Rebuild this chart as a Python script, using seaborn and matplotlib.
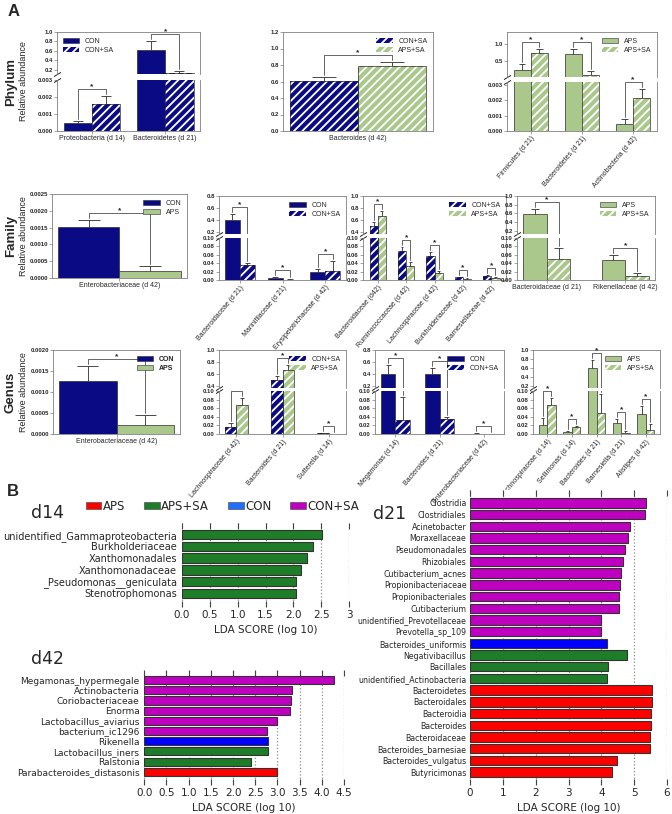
import numpy as np
import pandas as pd
import matplotlib
matplotlib.use("Agg")
import matplotlib.pyplot as plt
from matplotlib.patches import Rectangle, Patch
import seaborn as sns

W, H = 672, 814

NAVY = "#0a0a84"
GREEN = "#aac88c"
EDGE = "#2b2b2b"
SPINE = "#808080"
STYLE = {"CON": (NAVY, False), "CON+SA": (NAVY, True),
         "APS": (GREEN, False), "APS+SA": (GREEN, True)}

LEFSE_COLORS = {"APS": "#ff0000", "APS+SA": "#1e7d28", "CON": "#0000ff", "CON+SA": "#c000c0"}
LEGEND_COLORS = {"APS": "#ff0000", "APS+SA": "#1e7d28", "CON": "#1f6fff", "CON+SA": "#c000c0"}

# ---------------- Panel A data (mean, sd) ----------------
phy1_taxa = ["Proteobacteria (d 14)", "Bacteroidetes (d 21)"]
phy1_groups = ["CON", "CON+SA"]
phy1_mean_a = [0.00045, 0.628]
phy1_sd_a = [0.00016, 0.18]
phy1_mean_b = [0.0016, 0.137]
phy1_sd_b = [0.00043, 0.04]

phy2_taxa = ["Bacteroides (d 42)"]
phy2_groups = ["CON+SA", "APS+SA"]
phy2_mean_a = [0.604]
phy2_sd_a = [0.056]
phy2_mean_b = [0.785]
phy2_sd_b = [0.053]

phy3_taxa = ["Firmicutes (d 21)", "Bacteroidetes (d 21)", "Actinobacteria (d 42)"]
phy3_groups = ["APS", "APS+SA"]
phy3_mean_a = [0.23, 0.70, 0.00046]
phy3_sd_a = [0.18, 0.17, 0.00033]
phy3_mean_b = [0.75, 0.08, 0.00213]
phy3_sd_b = [0.11, 0.12, 0.0006]

fam1_taxa = ["Enterobacteriaceae (d 42)"]
fam1_groups = ["CON", "APS"]
fam1_mean_a = [0.00152]
fam1_sd_a = [0.00022]
fam1_mean_b = [0.00022]
fam1_sd_b = [0.00013]

fam2_taxa = ["Bacteroidaceae (d 21)", "Marinifilaceae (d 21)", "Erysipelotrichaceae (d 42)"]
fam2_groups = ["CON", "CON+SA"]
fam2_mean_a = [0.40, 0.0056, 0.0184]
fam2_sd_a = [0.095, 0.0016, 0.007]
fam2_mean_b = [0.036, 0.001, 0.0216]
fam2_sd_b = [0.004, 0.0005, 0.024]

fam3_taxa = ["Bacteroidaceae (d42)", "Ruminococcaceae (d 42)", "Lachnospiraceae (d 42)",
             "Burkholderiaceae (d 42)", "Barnesiellaceae (d 42)"]
fam3_groups = ["CON+SA", "APS+SA"]
fam3_mean_a = [0.49, 0.0696, 0.0576, 0.0064, 0.0096]
fam3_sd_a = [0.077, 0.008, 0.010, 0.0016, 0.0016]
fam3_mean_b = [0.667, 0.034, 0.016, 0.0032, 0.0056]
fam3_sd_b = [0.077, 0.008, 0.006, 0.0008, 0.0016]

fam4_taxa = ["Bacteroidaceae (d 21)", "Rikenellaceae (d 42)"]
fam4_groups = ["APS", "APS+SA"]
fam4_mean_a = [0.585, 0.048]
fam4_sd_a = [0.105, 0.0112]
fam4_mean_b = [0.0504, 0.0096]
fam4_sd_b = [0.0256, 0.0072]

gen1_taxa = ["Enterobacteriaceae (d 42)"]
gen1_groups = ["CON", "APS"]
gen1_mean_a = [0.00126]
gen1_sd_a = [0.00035]
gen1_mean_b = [0.000214]
gen1_sd_b = [0.00024]

gen2_taxa = ["Lachnospiraceae (d 42)", "Bacteroides (d 21)", "Sutterella (d 14)"]
gen2_groups = ["CON+SA", "APS+SA"]
gen2_mean_a = [0.0168, 0.495, 0.0023]
gen2_sd_a = [0.0084, 0.079, 0.001]
gen2_mean_b = [0.067, 0.675, 0.0008]
gen2_sd_b = [0.0176, 0.078, 0.0003]

gen3_taxa = ["Megamonas (d 14)", "Bacteroides (d 21)", "Enterobacteriaceae (d 42)"]
gen3_groups = ["CON", "CON+SA"]
gen3_mean_a = [0.396, 0.407, 0.001]
gen3_sd_a = [0.15, 0.095, 0.0003]
gen3_mean_b = [0.033, 0.035, 0.0003]
gen3_sd_b = [0.052, 0.005, 0.0002]

gen4_taxa = ["Lachnospiraceae (d 14)", "Sellimonas (d 14)", "Bacteroides (d 21)",
             "Barnesiella (d 21)", "Alistipes (d 42)"]
gen4_groups = ["APS", "APS+SA"]
gen4_mean_a = [0.021, 0.004, 0.596, 0.0258, 0.047]
gen4_sd_a = [0.0165, 0.004, 0.18, 0.0094, 0.017]
gen4_mean_b = [0.068, 0.0156, 0.049, 0.003, 0.0102]
gen4_sd_b = [0.016, 0.004, 0.043, 0.0047, 0.012]

# ---------------- Panel B data (LDA scores) ----------------
d14_taxa = ["unidentified_Gammaproteobacteria", "Burkholderiaceae", "Xanthomonadales",
            "Xanthomonadaceae", "_Pseudomonas__geniculata", "Stenotrophomonas"]
d14_lda = [2.51, 2.35, 2.24, 2.14, 2.05, 2.04]
d14_class = ["APS+SA", "APS+SA", "APS+SA", "APS+SA", "APS+SA", "APS+SA"]

d42_taxa = ["Megamonas_hypermegale", "Actinobacteria", "Coriobacteriaceae", "Enorma",
            "Lactobacillus_aviarius", "bacterium_ic1296", "Rikenella", "Lactobacillus_iners",
            "Ralstonia", "Parabacteroides_distasonis"]
d42_lda = [4.27, 3.33, 3.31, 3.29, 2.99, 2.76, 2.78, 2.78, 2.40, 2.99]
d42_class = ["CON+SA", "CON+SA", "CON+SA", "CON+SA", "CON+SA", "CON+SA",
             "CON", "APS+SA", "APS+SA", "APS"]

d21_taxa = ["Clostridia", "Clostridiales", "Acinetobacter", "Moraxellaceae", "Pseudomonadales",
            "Rhizobiales", "Cutibacterium_acnes", "Propionibacteriaceae", "Propionibacteriales",
            "Cutibacterium", "unidentified_Prevotellaceae", "Prevotella_sp_109",
            "Bacteroides_uniformis", "Negativibacillus", "Bacillales", "unidentified_Actinobacteria",
            "Bacteroidetes", "Bacteroidales", "Bacteroidia", "Bacteroides", "Bacteroidaceae",
            "Bacteroides_barnesiae", "Bacteroides_vulgatus", "Butyricimonas"]
d21_lda = [5.37, 5.33, 4.86, 4.82, 4.72, 4.66, 4.59, 4.56, 4.54, 4.54, 4.00, 4.00,
           4.16, 4.77, 4.20, 4.18, 5.55, 5.54, 5.51, 5.50, 5.47, 5.47, 4.48, 4.31]
d21_class = ["CON+SA", "CON+SA", "CON+SA", "CON+SA", "CON+SA", "CON+SA", "CON+SA", "CON+SA",
             "CON+SA", "CON+SA", "CON+SA", "CON+SA", "CON", "APS+SA", "APS+SA", "APS+SA",
             "APS", "APS", "APS", "APS", "APS", "APS", "APS", "APS"]
lefse_legend = ["APS", "APS+SA", "CON", "CON+SA"]

sns.set_style("ticks")
plt.rcParams["font.family"] = ["Liberation Sans", "DejaVu Sans"]
plt.rcParams["hatch.linewidth"] = 1.3

fig = plt.figure(figsize=(W / 100, H / 100), dpi=100)


def px_rect(x0, y0, x1, y1):
    return [x0 / W, 1 - y1 / H, (x1 - x0) / W, (y1 - y0) / H]


def abundance(x0, x1, pieces, taxa, groups, mean_a, sd_a, mean_b, sd_b,
              width=0.8, rot=0, leg_loc="upper right", leg_bold=False):
    n = len(taxa)
    df = pd.DataFrame({"taxon": list(taxa) * 2,
                       "group": [groups[0]] * n + [groups[1]] * n,
                       "value": list(mean_a) + list(mean_b)})
    sds = list(sd_a) + list(sd_b)
    axes, dpp = [], []
    centers = None
    for k, (yt, yb, lim, ticks, fmt) in enumerate(pieces):
        ax = fig.add_axes(px_rect(x0, yt, x1, yb))
        sns.barplot(data=df, x="taxon", y="value", hue="group", hue_order=groups,
                    palette=[STYLE[g][0] for g in groups], width=width, errorbar=None,
                    legend=False, saturation=1, edgecolor=EDGE, linewidth=0.5, ax=ax)
        bars = list(ax.patches)
        centers = [p.get_x() + p.get_width() / 2 for p in bars]
        for i, p in enumerate(bars):
            if STYLE[groups[i // n]][1]:
                p.set_hatch("////")
                p.set_edgecolor("white")
                p.set_linewidth(0)
                ax.add_patch(Rectangle((p.get_x(), p.get_y()), p.get_width(), p.get_height(),
                                       fill=False, ec=EDGE, lw=0.5))
        vals = df["value"].to_numpy()
        cap = width * 0.09
        ax.vlines(centers, vals, vals + np.array(sds), color=EDGE, lw=0.6)
        ax.hlines(vals + np.array(sds), np.array(centers) - cap, np.array(centers) + cap,
                  color=EDGE, lw=0.6)
        ax.set_ylim(lim)
        ax.set_yticks(ticks, labels=[fmt % t for t in ticks], fontsize=4.3, fontweight="bold")
        ax.set_xlabel("")
        ax.set_ylabel("")
        for sp in ax.spines.values():
            sp.set_color(SPINE)
            sp.set_linewidth(0.6)
        ax.tick_params(axis="both", length=2, width=0.5, color=SPINE, pad=1)
        if k < len(pieces) - 1:
            ax.spines["bottom"].set_visible(False)
            ax.set_xticks([])
            ax.plot([0], [0], transform=ax.transAxes, marker=[(-1, -0.6), (1, 0.6)],
                    ms=5, ls="none", mec="k", mew=0.6, clip_on=False)
        else:
            if rot:
                ax.set_xticks(range(n), labels=taxa, fontsize=5, rotation=rot,
                              ha="right", rotation_mode="anchor")
            else:
                ax.set_xticks(range(n), labels=taxa, fontsize=5)
        if k > 0:
            ax.spines["top"].set_visible(False)
            ax.plot([0], [1], transform=ax.transAxes, marker=[(-1, -0.6), (1, 0.6)],
                    ms=5, ls="none", mec="k", mew=0.6, clip_on=False)
        axes.append(ax)
        dpp.append((lim[1] - lim[0]) / (yb - yt))

    def piece_for(y):
        for idx in range(len(pieces) - 1, -1, -1):
            if y <= pieces[idx][2][1]:
                return idx
        return 0

    # significance brackets
    for i in range(n):
        xa, xb = centers[i], centers[i + n]
        ta, tb = mean_a[i] + sd_a[i], mean_b[i] + sd_b[i]
        top = max(ta, tb)
        level = top + 7 * dpp[piece_for(top)]
        la = ta + 2 * dpp[piece_for(ta)]
        lb = tb + 2 * dpp[piece_for(tb)]
        for ax in axes:
            ax.plot([xa, xa, xb, xb], [la, level, level, lb], color="#4d4d4d", lw=0.6)
        kk = piece_for(level)
        axes[kk].text((xa + xb) / 2, level + 0.8 * dpp[kk], "*", ha="center", va="baseline",
                      fontsize=6, fontweight="bold")

    handles = []
    for g in groups:
        col, hat = STYLE[g]
        if hat:
            handles.append(Patch(facecolor=col, edgecolor="white", hatch="////", lw=0))
        else:
            handles.append(Patch(facecolor=col, edgecolor=EDGE, lw=0.4))
    leg = axes[0].legend(handles, groups, loc=leg_loc, frameon=False, fontsize=5,
                         handlelength=2.4, handleheight=0.8, borderaxespad=0.4,
                         labelspacing=0.3, handletextpad=0.8)
    if leg_bold:
        for t in leg.get_texts():
            t.set_fontweight("bold")
    return axes


t01 = [0.2, 0.4, 0.6, 0.8, 1.0]
low10 = [0.0, 0.02, 0.04, 0.06, 0.08, 0.10]

# Phylum row
abundance(57, 200, [(32, 74, (0.11, 1.0), t01, "%.1f"),
                    (80, 131, (0, 0.003), [0, 0.001, 0.002, 0.003], "%.3f")],
          phy1_taxa, phy1_groups, phy1_mean_a, phy1_sd_a, phy1_mean_b, phy1_sd_b,
          width=0.77, leg_loc="upper left")
abundance(283, 433, [(32, 131, (0, 1.2), [0, 0.2, 0.4, 0.6, 0.8, 1.0, 1.2], "%.1f")],
          phy2_taxa, phy2_groups, phy2_mean_a, phy2_sd_a, phy2_mean_b, phy2_sd_b, width=0.65)
abundance(507, 657, [(32, 77, (0.01, 1.38), [0.5, 1.0], "%.1f"),
                     (82, 131, (0, 0.0032), [0, 0.001, 0.002, 0.003], "%.3f")],
          phy3_taxa, phy3_groups, phy3_mean_a, phy3_sd_a, phy3_mean_b, phy3_sd_b,
          width=0.67, rot=50)

# Family row
abundance(52, 187, [(194, 278, (0, 0.0025), [0, 0.0005, 0.001, 0.0015, 0.002, 0.0025], "%.4f")],
          fam1_taxa, fam1_groups, fam1_mean_a, fam1_sd_a, fam1_mean_b, fam1_sd_b, width=0.62)
abundance(219, 346, [(196, 234, (0.16, 0.8), [0.2, 0.4, 0.6, 0.8], "%.1f"),
                     (238, 280, (0, 0.1), low10, "%.2f")],
          fam2_taxa, fam2_groups, fam2_mean_a, fam2_sd_a, fam2_mean_b, fam2_sd_b,
          width=0.7, rot=50)
abundance(363, 506, [(196, 234, (0.36, 1.0), [0.4, 0.6, 0.8, 1.0], "%.1f"),
                     (238, 280, (0, 0.1), low10, "%.2f")],
          fam3_taxa, fam3_groups, fam3_mean_a, fam3_sd_a, fam3_mean_b, fam3_sd_b,
          width=0.58, rot=50)
abundance(517, 655, [(196, 234, (0.12, 1.0), t01, "%.1f"),
                     (238, 280, (0, 0.1), low10, "%.2f")],
          fam4_taxa, fam4_groups, fam4_mean_a, fam4_sd_a, fam4_mean_b, fam4_sd_b, width=0.6)

# Genus row
abundance(53, 180, [(350, 434, (0, 0.002), [0, 0.0005, 0.001, 0.0015, 0.002], "%.4f")],
          gen1_taxa, gen1_groups, gen1_mean_a, gen1_sd_a, gen1_mean_b, gen1_sd_b,
          width=0.66, leg_bold=True)
abundance(219, 346, [(350, 388, (0.37, 1.0), [0.4, 0.6, 0.8, 1.0], "%.1f"),
                     (391, 434, (0, 0.1), low10, "%.2f")],
          gen2_taxa, gen2_groups, gen2_mean_a, gen2_sd_a, gen2_mean_b, gen2_sd_b,
          width=0.5, rot=50)
abundance(375, 504, [(350, 388, (0.17, 0.8), [0.2, 0.4, 0.6, 0.8], "%.1f"),
                     (391, 434, (0, 0.1), low10, "%.2f")],
          gen3_taxa, gen3_groups, gen3_mean_a, gen3_sd_a, gen3_mean_b, gen3_sd_b,
          width=0.66, rot=50)
abundance(533, 660, [(350, 388, (0.16, 1.0), t01, "%.1f"),
                     (391, 434, (0, 0.1), low10, "%.2f")],
          gen4_taxa, gen4_groups, gen4_mean_a, gen4_sd_a, gen4_mean_b, gen4_sd_b,
          width=0.68, rot=50)

for name, yc in [("Phylum", 81.5), ("Family", 236), ("Genus", 392)]:
    fig.text(11 / W, 1 - yc / H, name, rotation=90, ha="center", va="center",
             fontsize=9.5, fontweight="bold")
    fig.text(24 / W, 1 - yc / H, "Relative abundance", rotation=90, ha="center",
             va="center", fontsize=6.5)

fig.text(8 / W, 1 - 12 / H, "A", fontsize=12, fontweight="bold", va="center")
fig.text(7 / W, 1 - 491 / H, "B", fontsize=12, fontweight="bold", va="center")


# ---------------- Panel B ----------------
def lefse(x0, x1, yt, yb, taxa, scores, classes, ticks, labels, xmax, ylim, title, tpos,
          name_size=7, name_pad=3.5):
    df = pd.DataFrame({"taxon": taxa, "lda": scores, "cls": classes})
    ax = fig.add_axes(px_rect(x0, yt, x1, yb))
    sns.barplot(data=df, x="lda", y="taxon", hue="cls", palette=LEFSE_COLORS, dodge=False,
                width=0.8, saturation=1, edgecolor="#333333", linewidth=0.8,
                legend=False, ax=ax)
    ax.set_axisbelow(True)
    ax.xaxis.grid(True, ls=":", color="#8c8c8c", lw=0.9)
    ax.yaxis.grid(False)
    for sp in ax.spines.values():
        sp.set_visible(False)
    ax.set_xlim(0, xmax)
    ax.set_ylim(ylim)
    ax.set_xticks(ticks, labels=labels, fontsize=7.5, fontfamily="DejaVu Sans")
    ax.set_yticks(range(len(taxa)), labels=taxa, fontsize=name_size, fontfamily="DejaVu Sans")
    ax.tick_params(axis="x", direction="in", top=True, bottom=True, length=4, width=0.8,
                   color="#444444", pad=2.5)
    ax.tick_params(axis="y", length=0, pad=name_pad)
    ax.set_ylabel("")
    ax.set_xlabel("LDA SCORE (log 10)", fontsize=7.5, fontfamily="DejaVu Sans", labelpad=3)
    fig.text(tpos[0] / W, 1 - tpos[1] / H, title, fontsize=12.5, fontfamily="DejaVu Sans",
             ha="center", va="center")
    return ax


lefse(182, 349, 523, 607, d14_taxa, d14_lda, d14_class,
      [0, 0.5, 1.0, 1.5, 2.0, 2.5, 3.0], ["0.0", "0.5", "1.0", "1.5", "2.0", "2.5", "3"],
      3.0, (6.17, -1.0), "d14", (47, 513), name_size=7)
lefse(144.3, 343.9, 670, 785, d42_taxa, d42_lda, d42_class,
      [0, 0.5, 1.0, 1.5, 2.0, 2.5, 3.0, 3.5, 4.0, 4.5],
      ["0.0", "0.5", "1.0", "1.5", "2.0", "2.5", "3.0", "3.5", "4.0", "4.5"],
      4.5, (10.3, -1.0), "d42", (47, 659), name_size=6.5)
lefse(470, 667, 490, 785, d21_taxa, d21_lda, d21_class,
      [0, 1, 2, 3, 4, 5, 6], ["0", "1", "2", "3", "4", "5", "6"],
      6.0, (24.1, -1.1), "d21", (390, 514), name_size=5.7, name_pad=2.6)

fig.legend([Patch(facecolor=LEGEND_COLORS[c], edgecolor="#555555", lw=0.5) for c in lefse_legend],
           lefse_legend, loc="center left", bbox_to_anchor=(80 / W, 1 - 506 / H), ncol=4,
           frameon=False, prop={"family": "DejaVu Sans", "size": 8.5}, handlelength=1.3,
           handleheight=0.6, handletextpad=0.15, columnspacing=1.6, borderpad=0)

fig.savefig("out.png", dpi=100)
